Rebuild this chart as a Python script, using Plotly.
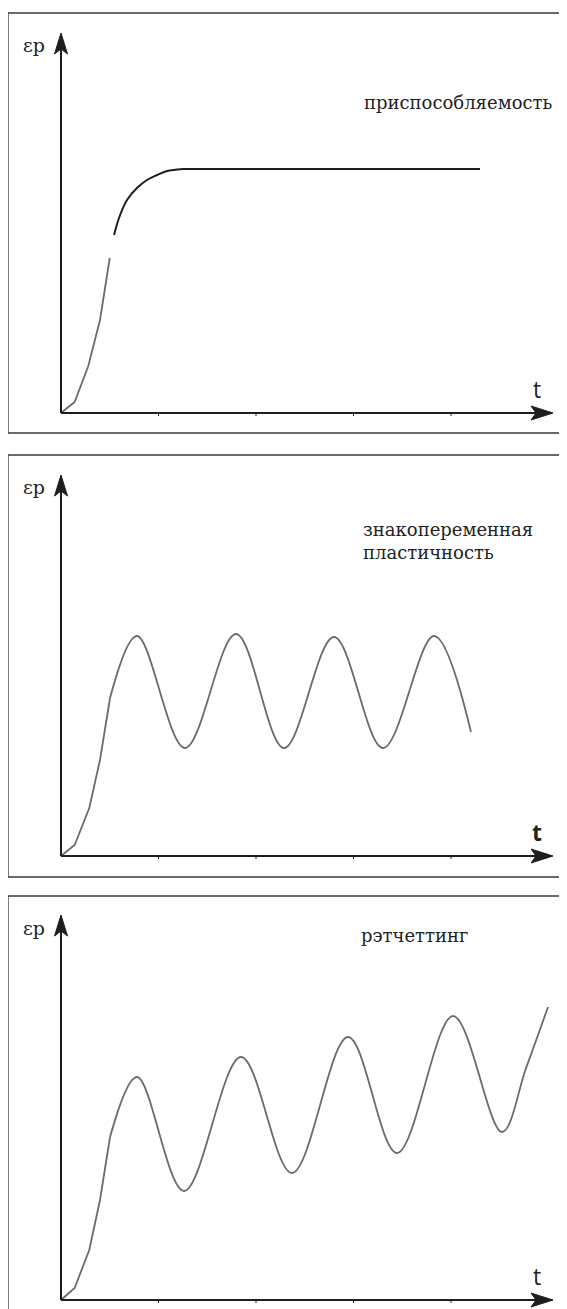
import plotly.graph_objects as go

# ---------------------------------------------------------------- data ---- #
# t in tick units (one tick = one unit), eps_p in arbitrary units

# panel 1 : shakedown (приспособляемость)
t_rise_1 = [0.0, 0.14, 0.28, 0.40, 0.50]
e_rise_1 = [0.0, 0.11, 0.47, 0.93, 1.55]
t_arc_1 = [0.544, 0.595, 0.677, 0.779, 0.882, 0.985, 1.087, 1.251]
e_arc_1 = [1.78, 1.95, 2.13, 2.25, 2.33, 2.38, 2.42, 2.44]
t_flat_1 = [1.251, 4.297]
e_flat_1 = [2.44, 2.44]

# panel 2 : alternating plasticity (знакопеременная пластичность)
t_rise_2 = [0.0, 0.14, 0.29, 0.40, 0.503]
e_rise_2 = [0.0, 0.11, 0.48, 0.96, 1.58]
# kink, then peaks / troughs, then end point
t_wave_2 = [0.503, 0.779, 1.272, 1.795, 2.287, 2.800, 3.303, 3.826, 4.205]
e_wave_2 = [1.58, 2.20, 1.08, 2.22, 1.08, 2.19, 1.08, 2.20, 1.24]

# panel 3 : ratcheting (рэтчеттинг)
t_rise_3 = [0.0, 0.14, 0.29, 0.40, 0.503]
e_rise_3 = [0.0, 0.12, 0.50, 1.00, 1.63]
t_wave_3 = [0.503, 0.779, 1.262, 1.846, 2.369, 2.944, 3.446, 4.021, 4.523, 4.770, 4.995]
e_wave_3 = [1.63, 2.23, 1.09, 2.43, 1.27, 2.63, 1.47, 2.84, 1.68, 2.32, 2.93]

tick_vals = [1, 2, 3, 4]
panel_labels = ["приспособляемость", "знакопеременная<br>пластичность", "рэтчеттинг"]
y_label = "εp"
x_label = "t"

# ------------------------------------------------------------- layout ---- #
# page has an 8px body margin, so the figure is drawn 8px smaller
OFF = 8
W, H = 567 - OFF, 1309 - OFF
PX_T = 97.5      # pixels per t unit
PX_E = 100.0     # pixels per eps unit
X0 = 61 - OFF    # pixel x of the origin (figure coords)
BOX_L, BOX_R = 8 - OFF, 566 - OFF

# (box top, box bottom, origin y, y-arrow tip) in screen pixels
panels = [
    dict(top=13, bot=433, y0=413, tip=33),
    dict(top=455, bot=877, y0=856, tip=475),
    dict(top=896, bot=1330, y0=1300, tip=915),
]

GRAY = "#6b6b6b"
DARK = "#1e1e1e"
SERIF = "DejaVu Serif"
SANS = "Open Sans"

fig = go.Figure()
shapes = []
annotations = []


def tx(px):
    # screen pixel x -> t
    return (px - OFF - X0) / PX_T


curves = [
    [(t_rise_1, e_rise_1, "linear", GRAY, 1.8), (t_arc_1, e_arc_1, "spline", DARK, 2.0),
     (t_flat_1, e_flat_1, "linear", DARK, 2.0)],
    [(t_rise_2, e_rise_2, "linear", GRAY, 1.8), (t_wave_2, e_wave_2, "spline", GRAY, 1.8)],
    [(t_rise_3, e_rise_3, "linear", GRAY, 1.8), (t_wave_3, e_wave_3, "spline", GRAY, 1.8)],
]

for i, p in enumerate(panels):
    n = "" if i == 0 else str(i + 1)
    xa, ya = "x" + n, "y" + n
    top, bot, y0 = p["top"] - OFF, p["bot"] - OFF, p["y0"] - OFF

    for xs, ys, shape, col, w in curves[i]:
        fig.add_trace(go.Scatter(x=xs, y=ys, mode="lines", xaxis=xa, yaxis=ya,
                                 line=dict(color=col, width=w, shape=shape, smoothing=1.0),
                                 showlegend=False, hoverinfo="skip"))

    bot_c = min(bot, H)
    dom = [1 - bot_c / H, 1 - top / H]
    e_lo = (y0 - bot_c) / PX_E
    e_hi = (y0 - top) / PX_E
    common = dict(showgrid=False, zeroline=False, showticklabels=False,
                  showline=False, ticks="", fixedrange=True)
    fig.update_layout(**{
        "xaxis" + n: dict(domain=[0, 1], range=[-X0 / PX_T, (W - X0) / PX_T], anchor=ya, **common),
        "yaxis" + n: dict(domain=dom, range=[e_lo, e_hi], anchor=xa, **common),
    })

    # frame
    shapes.append(dict(type="rect", xref="paper", yref="paper",
                       x0=BOX_L / W, x1=BOX_R / W,
                       y0=1 - bot / H, y1=1 - top / H,
                       line=dict(color="#3a3a3a", width=1.3)))

    # axes
    x_tip = tx(553)
    x_len = 22 / PX_T
    x_hw = 7 / PX_E
    x_notch = 5 / PX_T
    e_tip = (p["y0"] - p["tip"]) / PX_E
    e_len = 21 / PX_E
    e_hw = 6.5 / PX_T
    e_notch = 5 / PX_E
    line = dict(color=DARK, width=2)
    shapes.append(dict(type="line", xref=xa, yref=ya, x0=0, y0=0,
                       x1=x_tip - x_len + x_notch, y1=0, line=line))
    shapes.append(dict(type="line", xref=xa, yref=ya, x0=0, y0=0,
                       x1=0, y1=e_tip - e_len + e_notch, line=line))
    shapes.append(dict(type="path", xref=xa, yref=ya,
                       path=(f"M{x_tip},0 L{x_tip - x_len},{x_hw} "
                             f"L{x_tip - x_len + x_notch},0 L{x_tip - x_len},{-x_hw} Z"),
                       fillcolor=DARK, line=dict(color=DARK, width=1)))
    shapes.append(dict(type="path", xref=xa, yref=ya,
                       path=(f"M0,{e_tip} L{e_hw},{e_tip - e_len} "
                             f"L0,{e_tip - e_len + e_notch} L{-e_hw},{e_tip - e_len} Z"),
                       fillcolor=DARK, line=dict(color=DARK, width=1)))
    for tv in tick_vals:
        shapes.append(dict(type="line", xref=xa, yref=ya, x0=tv, x1=tv,
                           y0=0, y1=-3 / PX_E, line=dict(color=DARK, width=1)))

    # axis labels
    annotations.append(dict(xref=xa, yref=ya, x=tx(34), y=(p["y0"] - (p["top"] + 32)) / PX_E,
                            text=y_label, showarrow=False,
                            font=dict(family=SERIF, size=19, color="#222")))
    annotations.append(dict(xref=xa, yref=ya, x=tx(537), y=24 / PX_E,
                            text=x_label if i != 1 else "<b>" + x_label + "</b>",
                            showarrow=False,
                            font=dict(family=SANS, size=23, color="#222")))

# curve names
annotations.append(dict(xref="x", yref="y", x=tx(555), y=(413 - 103) / PX_E,
                        text=panel_labels[0], showarrow=False, xanchor="right",
                        font=dict(family=SERIF, size=18, color="#222")))
annotations.append(dict(xref="x2", yref="y2", x=tx(361), y=(856 - 541) / PX_E,
                        text=panel_labels[1], showarrow=False, xanchor="left", align="left",
                        font=dict(family=SERIF, size=18, color="#222")))
annotations.append(dict(xref="x3", yref="y3", x=tx(359), y=(1300 - 935) / PX_E,
                        text=panel_labels[2], showarrow=False, xanchor="left",
                        font=dict(family=SERIF, size=18, color="#222")))

fig.update_layout(width=W, height=H, margin=dict(l=0, r=0, t=0, b=0),
                  paper_bgcolor="white", plot_bgcolor="white",
                  shapes=shapes, annotations=annotations, showlegend=False)

fig.write_html("out.html", config={"displayModeBar": False})
